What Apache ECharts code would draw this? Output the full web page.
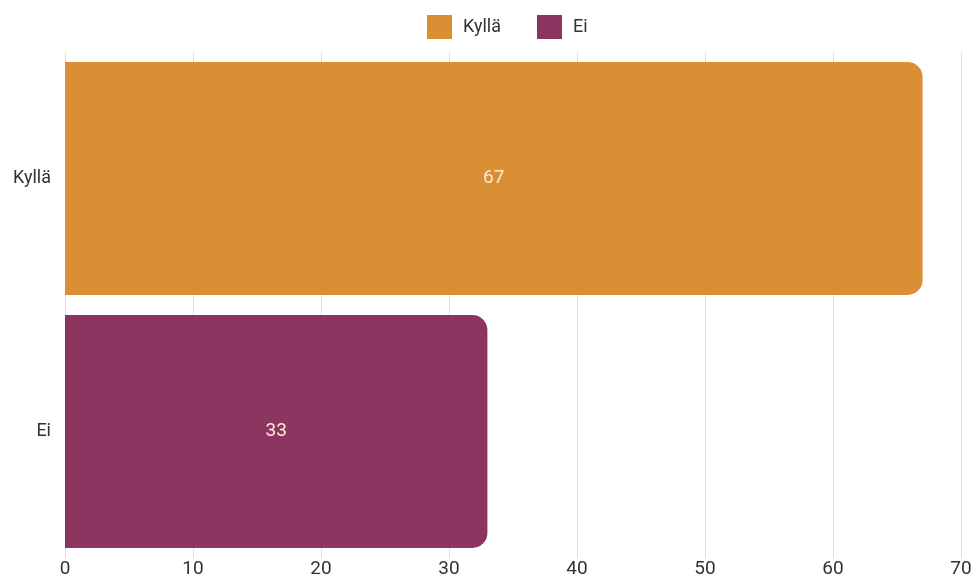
<!DOCTYPE html>
<html>
<head>
<meta charset="utf-8">
<script src="https://cdn.jsdelivr.net/npm/echarts@6/dist/echarts.min.js"></script>
<style>html,body{margin:0;padding:0;background:#fff;}#c{width:976px;height:581px;}</style>
</head>
<body>
<div id="c"></div>
<script>
const categories = ['Kyllä', 'Ei'];
const seriesNames = ['Kyllä', 'Ei'];
const kyllaValues = [67, '-'];
const eiValues = ['-', 33];
const xTicks = { min: 0, max: 70, interval: 10 };
const colors = ['#DA8F34', '#8C3561'];

const chart = echarts.init(document.getElementById('c'));
const font = 'Roboto';
const makeSeries = (name, data, color) => ({
  name: name,
  type: 'bar',
  stack: 'all',
  data: data,
  barWidth: 233,
  itemStyle: { color: color, borderRadius: [0, 15, 15, 0] },
  label: {
    show: true, position: 'inside', color: '#FBEBD3',
    fontFamily: font, fontSize: 19
  }
});
chart.setOption({
  animation: false,
  color: colors,
  legend: {
    top: 10, left: 422, padding: 5,
    itemWidth: 25, itemHeight: 24, itemGap: 36,
    icon: 'rect',
    textStyle: { fontFamily: font, fontSize: 18, color: '#333', padding: [0, 0, 0, 6] },
    data: seriesNames
  },
  grid: { left: 65, right: 15, top: 52, bottom: 23, containLabel: false },
  xAxis: {
    type: 'value', min: xTicks.min, max: xTicks.max, interval: xTicks.interval,
    axisLine: { show: false }, axisTick: { show: false },
    splitLine: { show: true, lineStyle: { color: '#DDDDDD', width: 1 } },
    axisLabel: { fontFamily: font, fontSize: 19, color: '#333', margin: 2 }
  },
  yAxis: {
    type: 'category', data: categories, inverse: true,
    axisLine: { show: false }, axisTick: { show: false },
    axisLabel: { fontFamily: font, fontSize: 18, color: '#333', margin: 14 }
  },
  series: [
    makeSeries(seriesNames[0], kyllaValues, colors[0]),
    makeSeries(seriesNames[1], eiValues, colors[1])
  ]
});
</script>
</body>
</html>
